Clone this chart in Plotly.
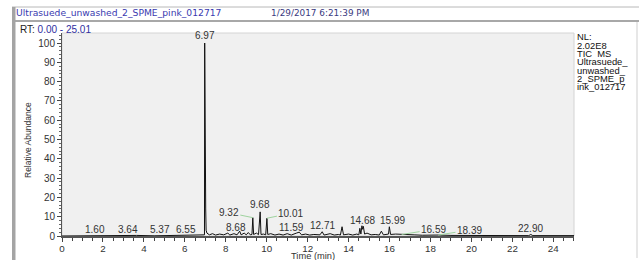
import plotly.graph_objects as go

# ---------------- data ----------------
time_min = [0.00, 1.00, 1.60, 2.50, 3.64, 4.50, 5.37, 6.00, 6.55, 6.94, 6.96, 6.97, 6.98, 6.99,
            7.00, 7.02, 7.04, 7.08, 7.20, 7.35, 7.50, 7.70, 7.90, 8.10, 8.20, 8.40, 8.55, 8.68,
            8.75, 8.90, 9.00, 9.10, 9.20, 9.28, 9.32, 9.36, 9.50, 9.60, 9.68, 9.72, 9.85, 9.95,
            10.01, 10.05, 10.20, 10.40, 10.60, 10.80, 11.00, 11.20, 11.45, 11.59, 11.70, 11.90,
            12.10, 12.30, 12.60, 12.71, 12.80, 13.10, 13.30, 13.50, 13.60, 13.68, 13.75, 14.00,
            14.20, 14.40, 14.50, 14.55, 14.60, 14.65, 14.68, 14.72, 14.78, 14.90, 15.10, 15.30,
            15.50, 15.60, 15.70, 15.85, 15.95, 15.99, 16.05, 16.30, 16.59, 16.80, 17.20, 17.60,
            18.00, 18.39, 19.00, 20.00, 22.80, 22.90, 23.00, 25.01]
abundance = [0.0, 0.1, 0.3, 0.1, 0.3, 0.1, 0.3, 0.1, 0.4, 0.5, 0.6, 100.0, 40.0, 54.0,
             20.0, 14.0, 3.0, 1.5, 0.6, 1.2, 0.5, 1.0, 0.6, 1.5, 0.5, 1.2, 0.6, 2.5,
             0.6, 1.5, 0.6, 1.8, 0.6, 0.8, 9.5, 0.8, 1.5, 0.7, 12.5, 0.8, 1.0, 0.6,
             9.2, 0.8, 1.2, 0.5, 1.0, 0.5, 1.2, 0.5, 1.5, 2.0, 0.6, 1.0,
             0.5, 0.8, 0.6, 2.2, 0.5, 1.2, 0.5, 0.8, 0.5, 4.8, 0.6, 1.0,
             0.5, 1.0, 0.6, 4.0, 1.0, 5.3, 3.5, 5.0, 1.0, 1.5, 0.6, 0.8,
             0.5, 2.5, 0.6, 0.8, 1.0, 4.8, 0.8, 1.0, 0.8, 0.5, 0.6, 0.4,
             0.5, 0.5, 0.3, 0.2, 0.2, 0.8, 0.2, 0.2]

label_rt = [1.60, 3.64, 5.37, 6.55, 6.97, 8.68, 9.32, 9.68, 10.01, 11.59, 12.71, 14.68,
            15.99, 16.59, 18.39, 22.90]
label_height = [0.3, 0.3, 0.3, 0.4, 100.0, 2.5, 9.5, 12.5, 9.2, 1.8, 2.2, 5.3,
                4.8, 0.8, 0.5, 0.6]

x_ticks = [0, 2, 4, 6, 8, 10, 12, 14, 16, 18, 20, 22, 24]
y_ticks = [0, 10, 20, 30, 40, 50, 60, 70, 80, 90, 100]

file_name = "Ultrasuede_unwashed_2_SPME_pink_012717"
acq_date = "1/29/2017 6:21:39 PM"
rt_range = "0.00 - 25.01"
side_info = ["NL:", "2.02E8", "TIC  MS", "Ultrasuede_", "unwashed_", "2_SPME_p", "ink_012717"]

# ---------------- style ----------------
W, H = 639, 260
L, R, T, B = 62, 65, 33, 24
PW, PH = W - L - R, H - T - B
FONT = "Liberation Sans, Arial, sans-serif"
WIDE = "DejaVu Sans, Verdana, sans-serif"
GREEN = "#9fd39f"

# label offsets in pixels: (dx, dy, with_connector)
LABEL_OFFSETS = {
    1.60: (0, -1.5, False), 3.64: (-9, -1.5, False), 5.37: (-12, -1.5, False),
    6.55: (-10, -1.5, False), 8.68: (-4, -3.5, False), 9.32: (-24, -5, True),
    10.01: (24, -5, True), 11.59: (-8, -2, False), 12.71: (0, -1.5, False),
    14.68: (0, -2, False), 15.99: (3, -1, False),
    16.59: (32, -5, True), 18.39: (31, -5, True), 22.90: (0, -1, False),
}


def px(x):
    return (x - L) / PW


def py(y):
    return (H - B - y) / PH


fig = go.Figure()
fig.add_trace(go.Scatter(x=time_min, y=abundance, mode="lines",
                         line=dict(color="#111111", width=1), hoverinfo="skip",
                         showlegend=False))

annotations = []
for rt, h in zip(label_rt, label_height):
    txt = f"{rt:.2f}"
    dx, dy, conn = LABEL_OFFSETS.get(rt, (0, 0, False))
    if conn:
        annotations.append(dict(x=rt, y=h, xref="x", yref="y", text=txt,
                                showarrow=True, arrowhead=0, arrowwidth=1,
                                arrowcolor=GREEN, ax=dx, ay=dy,
                                font=dict(family=FONT, size=10, color="#333333")))
    else:
        annotations.append(dict(x=rt, y=h, xref="x", yref="y", text=txt,
                                showarrow=False, yanchor="bottom", xshift=dx,
                                yshift=dy,
                                font=dict(family=FONT, size=10, color="#333333")))

# header texts
annotations.append(dict(x=px(14), y=py(12.5), xref="paper", yref="paper", text=file_name,
                        showarrow=False, xanchor="left", yanchor="middle",
                        font=dict(family=WIDE, size=9.2, color="#3a3ab0")))
annotations.append(dict(x=px(269), y=py(12.5), xref="paper", yref="paper", text=acq_date,
                        showarrow=False, xanchor="left", yanchor="middle",
                        font=dict(family=WIDE, size=8.9, color="#3a3a80")))
annotations.append(dict(x=px(18), y=py(29.5), xref="paper", yref="paper",
                        text=f"RT: <span style='color:#3030a0'>{rt_range}</span>",
                        showarrow=False, xanchor="left", yanchor="middle",
                        font=dict(family=FONT, size=10, color="#222222")))
for i, line in enumerate(side_info):
    annotations.append(dict(x=px(575), y=py(37 + 8.3 * i), xref="paper", yref="paper",
                            text=line, showarrow=False, xanchor="left", yanchor="middle",
                            font=dict(family=FONT, size=9.4, color="#111111")))
annotations.append(dict(x=px(313), y=py(255.5), xref="paper", yref="paper", text="Time (min)",
                        showarrow=False, xanchor="center", yanchor="middle",
                        font=dict(family=FONT, size=9.3, color="#333333")))
annotations.append(dict(x=px(28), y=py(140), xref="paper", yref="paper",
                        text="Relative Abundance", textangle=-90,
                        showarrow=False, xanchor="center", yanchor="middle",
                        font=dict(family=FONT, size=8.5, color="#333333")))

shapes = [
    dict(type="line", xref="paper", yref="paper", x0=px(12), x1=px(639), y0=py(7), y1=py(7),
         line=dict(color="#b8b8b8", width=1)),
    dict(type="line", xref="paper", yref="paper", x0=px(15), x1=px(639), y0=py(21), y1=py(21),
         line=dict(color="#a8a8a8", width=2)),
    dict(type="rect", xref="paper", yref="paper", x0=px(12), x1=px(15.5), y0=py(7), y1=py(260),
         line=dict(width=0), fillcolor="#a4a4a4"),
    dict(type="line", xref="paper", yref="paper", x0=px(637), x1=px(637), y0=py(22), y1=py(258),
         line=dict(color="#cfcfcf", width=1)),
    dict(type="rect", xref="paper", yref="paper", x0=0, x1=1, y0=0, y1=1,
         line=dict(color="#d4d4d4", width=1), layer="below"),
]

fig.update_layout(
    width=W, height=H,
    margin=dict(l=L, r=R, t=T, b=B, pad=0, autoexpand=False),
    paper_bgcolor="white", plot_bgcolor="#f0f0f0",
    font=dict(family=FONT, size=10, color="#333333"),
    showlegend=False,
    annotations=annotations, shapes=shapes,
    xaxis=dict(range=[0, 25.01], tickvals=x_ticks, ticks="outside", ticklen=4,
               automargin=False, ticklabelstandoff=-2,
               tickcolor="#444444", showline=True, linecolor="#555555", linewidth=1.5,
               showgrid=False, zeroline=False,
               minor=dict(dtick=0.5, tick0=0, ticks="outside", ticklen=3, tickcolor="#444444"),
               tickfont=dict(family=FONT, size=9.8, color="#333333")),
    yaxis=dict(range=[0, 105.2], tickvals=y_ticks, ticks="outside", ticklen=4,
               automargin=False,
               tickcolor="#444444", showline=True, linecolor="#555555", linewidth=1,
               showgrid=False, zeroline=False,
               minor=dict(dtick=2, tick0=0, ticks="outside", ticklen=2, tickcolor="#666666"),
               tickfont=dict(family=FONT, size=10, color="#333333")),
)

fig.write_html("out.html", config={"displayModeBar": False},
               post_script="document.body.style.margin='0px';document.body.style.padding='0px';")
